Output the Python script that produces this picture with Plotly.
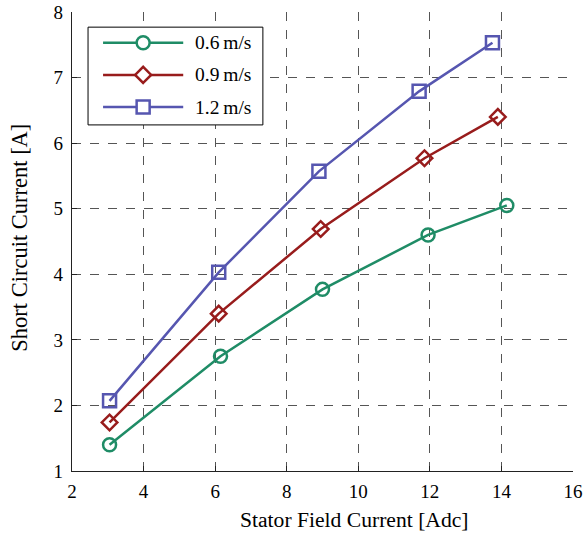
import plotly.graph_objects as go

# Data
names = ["0.6\u2009m/s", "0.9\u2009m/s", "1.2\u2009m/s"]
x_06 = [3.05, 6.15, 9.0, 11.95, 14.15]
y_06 = [1.40, 2.75, 3.77, 4.60, 5.05]
x_09 = [3.05, 6.1, 8.95, 11.85, 13.9]
y_09 = [1.74, 3.40, 4.69, 5.77, 6.40]
x_12 = [3.05, 6.1, 8.9, 11.7, 13.75]
y_12 = [2.07, 4.03, 5.57, 6.79, 7.53]
x_ticks = [2, 4, 6, 8, 10, 12, 14, 16]
y_ticks = [1, 2, 3, 4, 5, 6, 7, 8]
x_title = "Stator Field Current [Adc]"
y_title = "Short Circuit Current [A]"

colors = ["#1f8c66", "#981c1c", "#5656b0"]
symbols = ["circle-open", "diamond-open", "square-open"]
sizes = [13, 12, 13]

FONT = "Liberation Serif, Times New Roman, serif"

fig = go.Figure()
for xs, ys, c, s, sz, n in zip([x_06, x_09, x_12], [y_06, y_09, y_12], colors, symbols, sizes, names):
    fig.add_trace(go.Scatter(x=xs, y=ys, mode="lines+markers", name=n,
                             line=dict(color=c, width=2.5),
                             marker=dict(symbol=s, size=sz, color=c, line=dict(width=2.5, color=c)),
                             showlegend=False))

axis_common = dict(showgrid=True, gridcolor="#555555", griddash="dash", gridwidth=1,
                   showline=True, linecolor="#222222", linewidth=1.2,
                   ticks="inside", ticklen=5, tickcolor="#222222", zeroline=False,
                   tickfont=dict(family=FONT, size=19, color="black"), mirror=False,
                   automargin=False)

fig.update_xaxes(range=[2, 16], tickvals=x_ticks, ticklabelstandoff=3, **axis_common)
fig.update_yaxes(range=[1, 8], tickvals=y_ticks, ticklabelstandoff=4, **axis_common)

# Custom legend (paper coordinates)
shapes = [dict(type="rect", xref="paper", yref="paper", x0=0.032, x1=0.381, y0=0.754, y1=0.967,
               fillcolor="white", line=dict(color="black", width=1), layer="above")]
annotations = [
    dict(xref="paper", yref="paper", x=0.563, y=-0.107, text=x_title, showarrow=False,
         xanchor="center", yanchor="middle", font=dict(family=FONT, size=21.6, color="black")),
    dict(xref="paper", yref="paper", x=-0.104, y=0.508, text=y_title, showarrow=False, textangle=-90,
         xanchor="center", yanchor="middle", font=dict(family=FONT, size=22.5, color="black")),
]
ys_leg = [0.933, 0.863, 0.793]
for i, (c, n) in enumerate(zip(colors, names)):
    yl = ys_leg[i]
    shapes.append(dict(type="line", xref="paper", yref="paper", x0=0.062, x1=0.222, y0=yl, y1=yl,
                       line=dict(color=c, width=2.5), layer="above"))
    common = dict(xref="paper", yref="paper", xsizemode="pixel", ysizemode="pixel",
                  xanchor=0.142, yanchor=yl, line=dict(color=c, width=2.5), fillcolor="white", layer="above")
    if i == 0:
        shapes.append(dict(type="circle", x0=-6.5, x1=6.5, y0=-6.5, y1=6.5, **common))
    elif i == 1:
        shapes.append(dict(type="path", path="M0,-8 L8,0 L0,8 L-8,0 Z", **common))
    else:
        shapes.append(dict(type="rect", x0=-6.5, x1=6.5, y0=-6.5, y1=6.5, **common))
    annotations.append(dict(xref="paper", yref="paper", x=0.242, y=yl, text=n, showarrow=False,
                            xanchor="left", yanchor="middle",
                            font=dict(family=FONT, size=19.5, color="black")))

fig.update_layout(width=584, height=533, margin=dict(l=72, r=11, t=12, b=62),
                  plot_bgcolor="white", paper_bgcolor="white",
                  shapes=shapes, annotations=annotations, showlegend=False)

fig.write_html("out.html")
